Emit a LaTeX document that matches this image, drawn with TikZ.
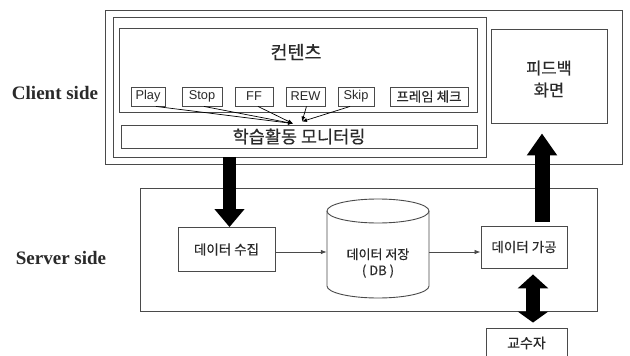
\documentclass[tikz,border=0pt]{standalone}
\usepackage{fontspec}
\setmainfont{Liberation Serif}
\newfontfamily\kr[FakeBold=0.5]{Noto Sans CJK KR}
\newfontfamily\lat{Liberation Sans}
\usetikzlibrary{arrows.meta,calc}
\definecolor{ln}{HTML}{4A4A4A}
\definecolor{tx}{HTML}{2A2A2A}
\begin{document}
\begin{tikzpicture}[x=1pt,y=-1pt,
  boxline/.style={draw=ln,line width=0.9pt,inner sep=0pt,text=tx},
  btn/.style={boxline,minimum height=19pt,font=\lat\fontsize{12.8}{14}\selectfont},
  flow/.style={draw=ln,line width=0.8pt,-{Latex[length=6pt,width=4.5pt]}},
  conv/.style={draw=black,line width=0.7pt,-{Latex[length=5pt,width=4pt]}},
  bigarrow/.style={draw=black,line width=13pt,-{Triangle[width=29pt,length=18pt]}},
  side/.style={font=\bfseries\fontsize{19}{20}\selectfont,text=tx,inner sep=0pt}]
\fill[white] (0,0) rectangle (630,356);
\useasboundingbox (0,0) rectangle (630,356);
\clip (0,0) rectangle (630,356);

% client side
\node[side] (cl) at (55,93) {Client side};
\node[side] (sl) at (61,258) {Server side};

\node[boxline,minimum width=517pt,minimum height=154pt] (client) at (363.5,87) {};
\node[boxline,minimum width=373pt,minimum height=140pt] (inner) at (299.5,87) {};
\node[boxline,minimum width=358pt,minimum height=84pt] (content) at (298,70) {};
\node[text=tx,font=\kr\fontsize{18.5}{20}\selectfont] (ctitle) at (296,52) {컨텐츠};
\node[boxline,minimum width=356pt,minimum height=23pt,font=\kr\fontsize{17.5}{18}\selectfont] (monitor) at (299,136.5) {학습활동 모니터링};
\node[boxline,minimum width=116pt,minimum height=94pt] (fb) at (549,76) {};
\node[text=tx,align=center,font=\kr\fontsize{16.5}{22}\selectfont] (fbtext) at (549,79) {피드백\\화면};

\node[btn,minimum width=34pt] (play) at (148,96.5) {Play};
\node[btn,minimum width=40pt] (stop) at (202,96.5) {Stop};
\node[btn,minimum width=38pt] (ff) at (254,96.5) {FF};
\node[btn,minimum width=39pt] (rew) at (305.5,96.5) {REW};
\node[btn,minimum width=36pt] (skip) at (356,96.5) {Skip};
\node[btn,minimum width=78pt,font=\kr\fontsize{13.5}{14}\selectfont] (fchk) at (429,96.5) {프레임 체크};

\coordinate (m1) at ($(monitor.north)+(-6pt,1pt)$);
\coordinate (m2) at ($(monitor.north)+(3pt,3pt)$);
\draw[conv] ($(play.south)+(8pt,0)$) -- (m1);
\draw[conv] ($(stop.south)+(2pt,0)$) -- (m1);
\draw[conv] ($(ff.south)+(4pt,0)$) -- (m1);
\draw[conv] ($(rew.south)+(1pt,0)$) -- (m2);
\draw[conv] ($(skip.south)+(-6pt,0)$) -- (m2);

% server side
\node[boxline,minimum width=457pt,minimum height=123pt] (server) at (368.5,249.5) {};
\node[boxline,minimum width=97pt,minimum height=44pt,font=\kr\fontsize{13.5}{14}\selectfont] (collect) at (226.5,249.5) {데이터 수집};
\node[inner sep=0pt,minimum width=102pt,minimum height=99pt] (db) at (378,248.5) {};
\draw[draw=ln,line width=0.9pt] (378,211) ellipse[x radius=51pt,y radius=12pt];
\draw[draw=ln,line width=0.9pt] (327,211) -- (327,286) arc[start angle=180,end angle=360,x radius=51pt,y radius=12pt] -- (429,211);
\node[text=tx,align=center,font=\kr\fontsize{13}{16}\selectfont] (dbtext) at (378,263) {데이터 저장\\( DB )};
\node[boxline,minimum width=86pt,minimum height=42pt,font=\kr\fontsize{13.5}{14}\selectfont] (proc) at (524,247) {데이터 가공};
\node[boxline,minimum width=81pt,minimum height=30pt,font=\kr\fontsize{14}{14}\selectfont] (teacher) at (526.5,343) {교수자};

\draw[flow] ($(collect.east)+(0,-2.5pt)$) -- ($(collect.east -| db.west)+(0,-2.5pt)$);
\draw[flow] ($(db.east)+(0,-3.5pt)$) -- ($(db.east -| proc.west)+(0,-3.5pt)$);

% thick arrows
\draw[bigarrow] ($(collect.north |- inner.south)+(3pt,0)$) -- ($(collect.north)+(3pt,0)$);
\draw[bigarrow,line width=15pt,-{Triangle[width=29pt,length=22pt]}] ($(proc.north)+(18pt,4pt)$) -- ($(proc.north |- fb.south)+(18pt,-10pt)$);
\draw[draw=black,line width=14pt,{Triangle[width=30pt,length=14pt]}-{Triangle[width=30pt,length=11pt]}] ($(proc.south)+(9pt,-6pt)$) -- ($(teacher.north)+(6.5pt,5pt)$);
\end{tikzpicture}
\end{document}
